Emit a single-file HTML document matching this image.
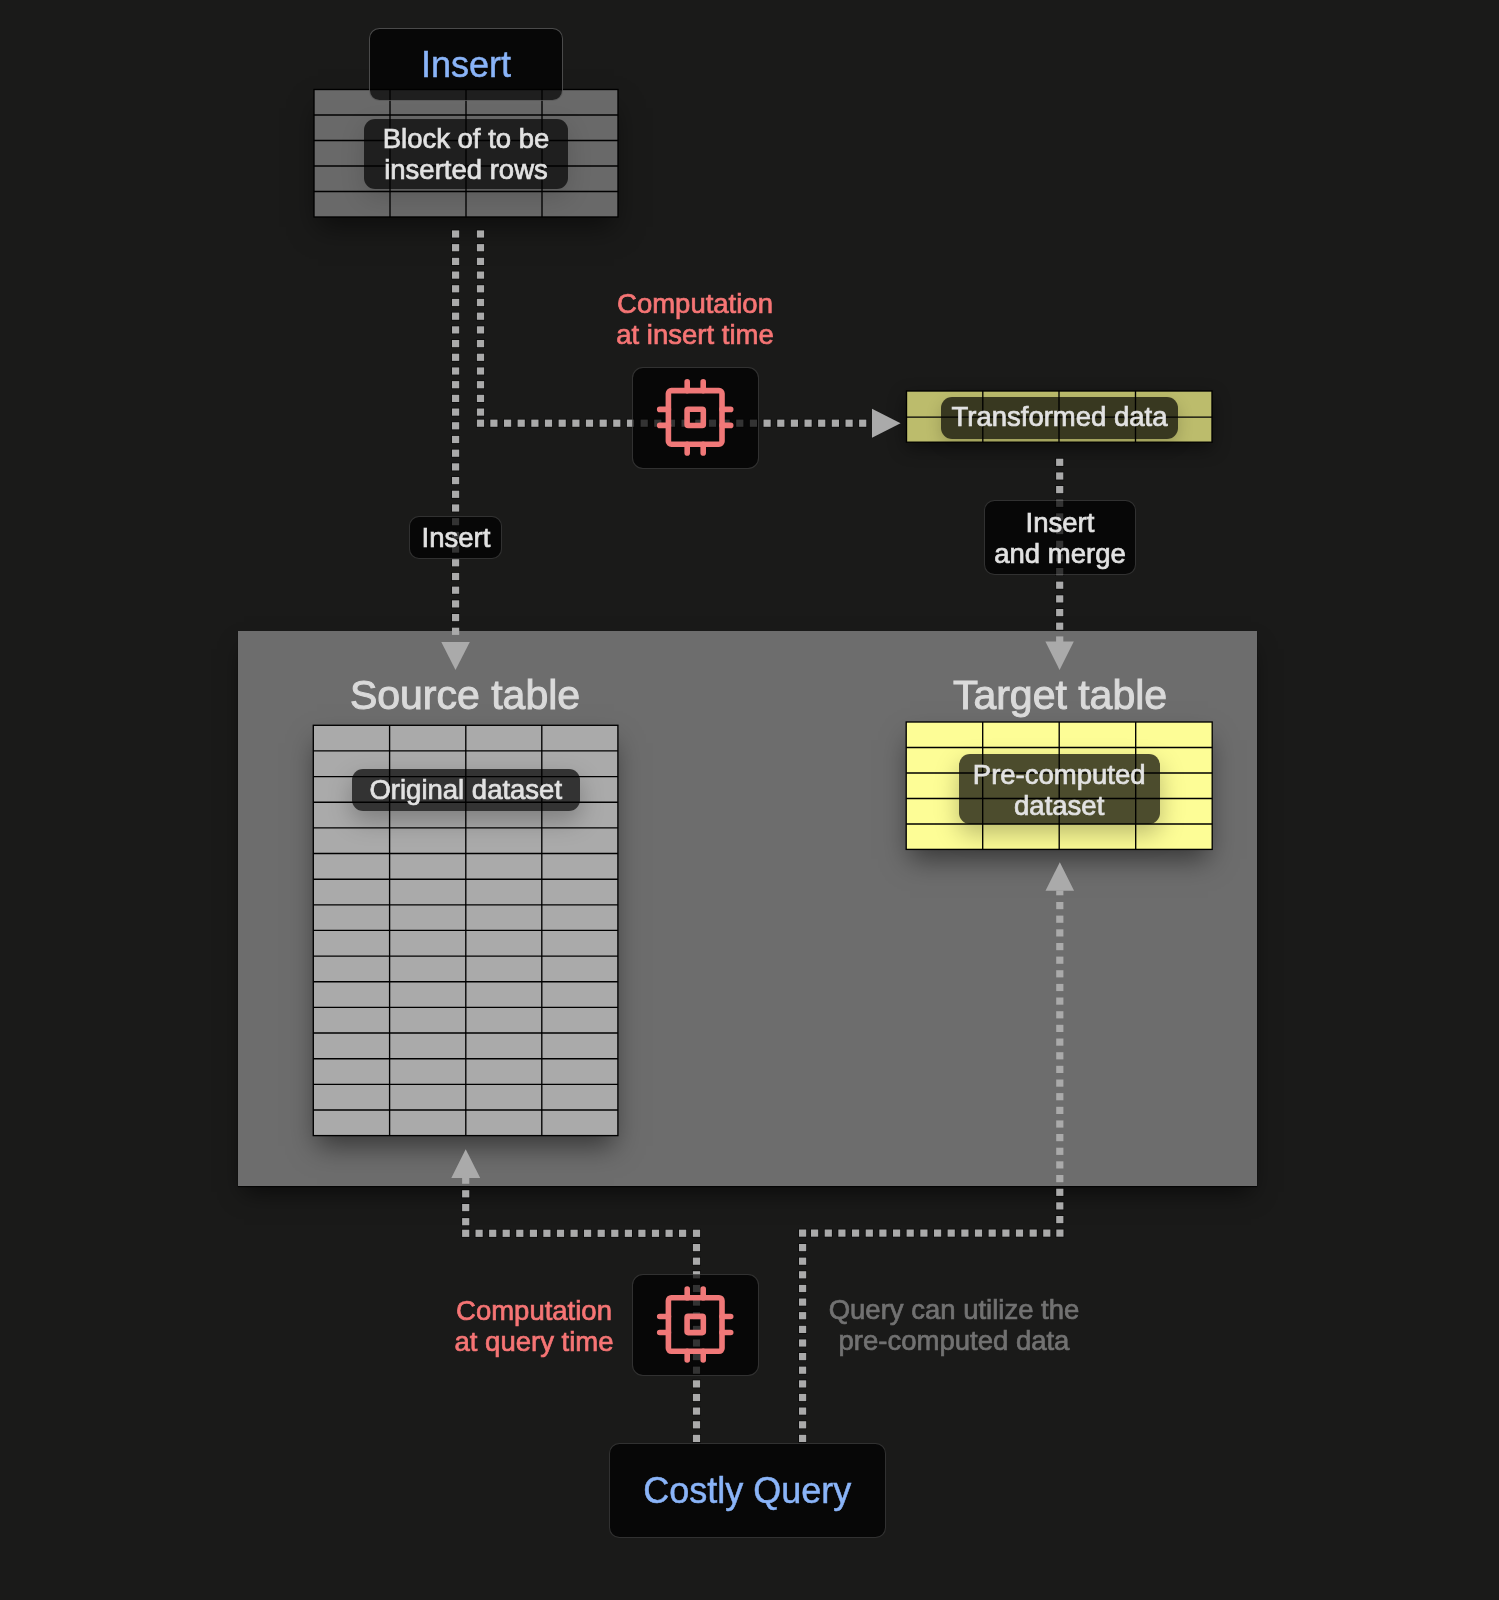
<!DOCTYPE html>
<html><head><meta charset="utf-8">
<style>
html,body{margin:0;padding:0;}
body{width:1499px;height:1600px;background:#1a1a19;position:relative;overflow:hidden;font-family:"Liberation Sans",sans-serif;}
.abs{position:absolute;}
#panel{left:238px;top:631px;width:1019px;height:555px;background:#6d6d6d;box-shadow:0 1px 1px rgba(0,0,0,0.7),0 12px 22px -6px rgba(0,0,0,0.6);}
.tshadow{position:absolute;box-shadow:0 14px 26px -4px rgba(0,0,0,0.5);}
svg{position:absolute;left:0;top:0;}
.box{position:absolute;box-sizing:border-box;background:rgba(0,0,0,0.7);border:1.2px solid rgba(255,255,255,0.17);border-radius:10.5px;}
.lbl{position:absolute;box-sizing:border-box;background:rgba(0,0,0,0.7);border-radius:11px;box-shadow:0 10px 24px rgba(0,0,0,0.26);}
.t{position:absolute;white-space:nowrap;text-align:center;line-height:31px;font-size:27.5px;color:#e2e2e2;-webkit-text-stroke:0.7px currentColor;will-change:transform;}
.blue{color:#8ab4f8;font-size:36px;-webkit-text-stroke:0.5px currentColor;}
.red{color:#f67575;}
.title{color:#dadada;font-size:41px;-webkit-text-stroke:1px currentColor;}
.gray{color:#727272;}
</style></head><body>
<div id="panel" class="abs"></div>
<!-- table shadows -->
<div class="tshadow" style="left:314px;top:90px;width:304px;height:127px;"></div>
<div class="tshadow" style="left:313px;top:725px;width:305px;height:411px;"></div>
<div class="tshadow" style="left:906px;top:722px;width:306px;height:127px;"></div>
<div class="tshadow" style="left:906px;top:391px;width:306px;height:51px;box-shadow:0 6px 18px rgba(0,0,0,0.45);"></div>
<svg width="1499" height="1600" viewBox="0 0 1499 1600" id="tables">
  <g stroke="#000" stroke-width="1.35" shape-rendering="geometricPrecision">
    <!-- top table -->
    <rect x="314" y="89.5" width="304" height="127.5" fill="#696969"/>
    <path d="M390 89.5V217M466 89.5V217M542 89.5V217M314 115H618M314 140.5H618M314 166H618M314 191.5H618"/>
    <!-- transformed -->
    <rect x="906.5" y="391" width="305.5" height="51.2" fill="#bcbc6c"/>
    <path d="M982.8 391V442.2M1059 391V442.2M1135.5 391V442.2M906.5 417.1H1212"/>
    <!-- source -->
    <rect x="313.3" y="725.3" width="304.6" height="410.3" fill="#aaaaaa"/>
    <path d="M389.6 725.3V1135.6M465.8 725.3V1135.6M541.8 725.3V1135.6M313.3 750.9H617.9M313.3 776.6H617.9M313.3 802.2H617.9M313.3 827.9H617.9M313.3 853.5H617.9M313.3 879.2H617.9M313.3 904.8H617.9M313.3 930.4H617.9M313.3 956.1H617.9M313.3 981.7H617.9M313.3 1007.4H617.9M313.3 1033.0H617.9M313.3 1058.7H617.9M313.3 1084.3H617.9M313.3 1110.0H617.9"/>
    <!-- target -->
    <rect x="906.2" y="722" width="306" height="127.4" fill="#fdfd96"/>
    <path d="M982.7 722V849.4M1059.2 722V849.4M1135.7 722V849.4M906.2 747.5H1212.2M906.2 773H1212.2M906.2 798.5H1212.2M906.2 824H1212.2"/>
  </g>
</svg>
<svg width="1499" height="1600" viewBox="0 0 1499 1600" id="lines">
  <g fill="#aaaaaa" stroke="#000" stroke-opacity="0.55" stroke-width="1.6" paint-order="stroke">
    <rect x="452.0" y="230.4" width="7.2" height="7.2"/>
    <rect x="452.0" y="244.1" width="7.2" height="7.2"/>
    <rect x="452.0" y="257.8" width="7.2" height="7.2"/>
    <rect x="452.0" y="271.5" width="7.2" height="7.2"/>
    <rect x="452.0" y="285.2" width="7.2" height="7.2"/>
    <rect x="452.0" y="298.9" width="7.2" height="7.2"/>
    <rect x="452.0" y="312.6" width="7.2" height="7.2"/>
    <rect x="452.0" y="326.3" width="7.2" height="7.2"/>
    <rect x="452.0" y="340.0" width="7.2" height="7.2"/>
    <rect x="452.0" y="353.7" width="7.2" height="7.2"/>
    <rect x="452.0" y="367.4" width="7.2" height="7.2"/>
    <rect x="452.0" y="381.1" width="7.2" height="7.2"/>
    <rect x="452.0" y="394.8" width="7.2" height="7.2"/>
    <rect x="452.0" y="408.5" width="7.2" height="7.2"/>
    <rect x="452.0" y="422.2" width="7.2" height="7.2"/>
    <rect x="452.0" y="435.9" width="7.2" height="7.2"/>
    <rect x="452.0" y="449.6" width="7.2" height="7.2"/>
    <rect x="452.0" y="463.3" width="7.2" height="7.2"/>
    <rect x="452.0" y="477.0" width="7.2" height="7.2"/>
    <rect x="452.0" y="490.7" width="7.2" height="7.2"/>
    <rect x="452.0" y="504.4" width="7.2" height="7.2"/>
    <rect x="452.0" y="518.1" width="7.2" height="7.2"/>
    <rect x="452.0" y="531.8" width="7.2" height="7.2"/>
    <rect x="452.0" y="545.5" width="7.2" height="7.2"/>
    <rect x="452.0" y="559.2" width="7.2" height="7.2"/>
    <rect x="452.0" y="572.9" width="7.2" height="7.2"/>
    <rect x="452.0" y="586.6" width="7.2" height="7.2"/>
    <rect x="452.0" y="600.3" width="7.2" height="7.2"/>
    <rect x="452.0" y="614.0" width="7.2" height="7.2"/>
    <rect x="476.9" y="230.4" width="7.2" height="7.2"/>
    <rect x="476.9" y="244.1" width="7.2" height="7.2"/>
    <rect x="476.9" y="257.8" width="7.2" height="7.2"/>
    <rect x="476.9" y="271.5" width="7.2" height="7.2"/>
    <rect x="476.9" y="285.2" width="7.2" height="7.2"/>
    <rect x="476.9" y="298.9" width="7.2" height="7.2"/>
    <rect x="476.9" y="312.6" width="7.2" height="7.2"/>
    <rect x="476.9" y="326.3" width="7.2" height="7.2"/>
    <rect x="476.9" y="340.0" width="7.2" height="7.2"/>
    <rect x="476.9" y="353.7" width="7.2" height="7.2"/>
    <rect x="476.9" y="367.4" width="7.2" height="7.2"/>
    <rect x="476.9" y="381.1" width="7.2" height="7.2"/>
    <rect x="476.9" y="394.8" width="7.2" height="7.2"/>
    <rect x="476.9" y="408.5" width="7.2" height="7.2"/>
    <rect x="476.9" y="419.6" width="7.2" height="7.2"/>
    <rect x="490.3" y="419.6" width="7.2" height="7.2"/>
    <rect x="504.0" y="419.6" width="7.2" height="7.2"/>
    <rect x="517.6" y="419.6" width="7.2" height="7.2"/>
    <rect x="531.3" y="419.6" width="7.2" height="7.2"/>
    <rect x="544.9" y="419.6" width="7.2" height="7.2"/>
    <rect x="558.6" y="419.6" width="7.2" height="7.2"/>
    <rect x="572.3" y="419.6" width="7.2" height="7.2"/>
    <rect x="585.9" y="419.6" width="7.2" height="7.2"/>
    <rect x="599.6" y="419.6" width="7.2" height="7.2"/>
    <rect x="613.2" y="419.6" width="7.2" height="7.2"/>
    <rect x="626.9" y="419.6" width="7.2" height="7.2"/>
    <rect x="640.6" y="419.6" width="7.2" height="7.2"/>
    <rect x="654.2" y="419.6" width="7.2" height="7.2"/>
    <rect x="667.9" y="419.6" width="7.2" height="7.2"/>
    <rect x="681.5" y="419.6" width="7.2" height="7.2"/>
    <rect x="695.2" y="419.6" width="7.2" height="7.2"/>
    <rect x="708.9" y="419.6" width="7.2" height="7.2"/>
    <rect x="722.5" y="419.6" width="7.2" height="7.2"/>
    <rect x="736.2" y="419.6" width="7.2" height="7.2"/>
    <rect x="749.8" y="419.6" width="7.2" height="7.2"/>
    <rect x="763.5" y="419.6" width="7.2" height="7.2"/>
    <rect x="777.2" y="419.6" width="7.2" height="7.2"/>
    <rect x="790.8" y="419.6" width="7.2" height="7.2"/>
    <rect x="804.5" y="419.6" width="7.2" height="7.2"/>
    <rect x="818.1" y="419.6" width="7.2" height="7.2"/>
    <rect x="831.8" y="419.6" width="7.2" height="7.2"/>
    <rect x="845.5" y="419.6" width="7.2" height="7.2"/>
    <rect x="859.1" y="419.6" width="7.2" height="7.2"/>
    <rect x="1056.1" y="458.7" width="7.2" height="7.2"/>
    <rect x="1056.1" y="472.4" width="7.2" height="7.2"/>
    <rect x="1056.1" y="486.0" width="7.2" height="7.2"/>
    <rect x="1056.1" y="499.7" width="7.2" height="7.2"/>
    <rect x="1056.1" y="513.3" width="7.2" height="7.2"/>
    <rect x="1056.1" y="527.0" width="7.2" height="7.2"/>
    <rect x="1056.1" y="540.7" width="7.2" height="7.2"/>
    <rect x="1056.1" y="554.3" width="7.2" height="7.2"/>
    <rect x="1056.1" y="568.0" width="7.2" height="7.2"/>
    <rect x="1056.1" y="581.6" width="7.2" height="7.2"/>
    <rect x="1056.1" y="595.3" width="7.2" height="7.2"/>
    <rect x="1056.1" y="609.0" width="7.2" height="7.2"/>
    <rect x="1056.1" y="622.6" width="7.2" height="7.2"/>
    <rect x="692.9" y="1434.8" width="7.2" height="7.2"/>
    <rect x="692.9" y="1421.2" width="7.2" height="7.2"/>
    <rect x="692.9" y="1407.5" width="7.2" height="7.2"/>
    <rect x="692.9" y="1393.9" width="7.2" height="7.2"/>
    <rect x="692.9" y="1380.3" width="7.2" height="7.2"/>
    <rect x="692.9" y="1366.6" width="7.2" height="7.2"/>
    <rect x="692.9" y="1353.0" width="7.2" height="7.2"/>
    <rect x="692.9" y="1339.4" width="7.2" height="7.2"/>
    <rect x="692.9" y="1325.8" width="7.2" height="7.2"/>
    <rect x="692.9" y="1312.1" width="7.2" height="7.2"/>
    <rect x="692.9" y="1298.5" width="7.2" height="7.2"/>
    <rect x="692.9" y="1284.9" width="7.2" height="7.2"/>
    <rect x="692.9" y="1271.2" width="7.2" height="7.2"/>
    <rect x="692.9" y="1257.6" width="7.2" height="7.2"/>
    <rect x="692.9" y="1244.0" width="7.2" height="7.2"/>
    <rect x="692.9" y="1229.7" width="7.2" height="7.2"/>
    <rect x="679.0" y="1229.7" width="7.2" height="7.2"/>
    <rect x="665.5" y="1229.7" width="7.2" height="7.2"/>
    <rect x="651.9" y="1229.7" width="7.2" height="7.2"/>
    <rect x="638.3" y="1229.7" width="7.2" height="7.2"/>
    <rect x="624.8" y="1229.7" width="7.2" height="7.2"/>
    <rect x="611.2" y="1229.7" width="7.2" height="7.2"/>
    <rect x="597.6" y="1229.7" width="7.2" height="7.2"/>
    <rect x="584.0" y="1229.7" width="7.2" height="7.2"/>
    <rect x="570.5" y="1229.7" width="7.2" height="7.2"/>
    <rect x="556.9" y="1229.7" width="7.2" height="7.2"/>
    <rect x="543.3" y="1229.7" width="7.2" height="7.2"/>
    <rect x="529.8" y="1229.7" width="7.2" height="7.2"/>
    <rect x="516.2" y="1229.7" width="7.2" height="7.2"/>
    <rect x="502.6" y="1229.7" width="7.2" height="7.2"/>
    <rect x="489.1" y="1229.7" width="7.2" height="7.2"/>
    <rect x="475.5" y="1229.7" width="7.2" height="7.2"/>
    <rect x="462.1" y="1229.7" width="7.2" height="7.2"/>
    <rect x="462.1" y="1218.1" width="7.2" height="7.2"/>
    <rect x="462.1" y="1204.0" width="7.2" height="7.2"/>
    <rect x="462.1" y="1190.2" width="7.2" height="7.2"/>
    <rect x="799.0" y="1434.8" width="7.2" height="7.2"/>
    <rect x="799.0" y="1421.2" width="7.2" height="7.2"/>
    <rect x="799.0" y="1407.5" width="7.2" height="7.2"/>
    <rect x="799.0" y="1393.9" width="7.2" height="7.2"/>
    <rect x="799.0" y="1380.3" width="7.2" height="7.2"/>
    <rect x="799.0" y="1366.6" width="7.2" height="7.2"/>
    <rect x="799.0" y="1353.0" width="7.2" height="7.2"/>
    <rect x="799.0" y="1339.4" width="7.2" height="7.2"/>
    <rect x="799.0" y="1325.8" width="7.2" height="7.2"/>
    <rect x="799.0" y="1312.1" width="7.2" height="7.2"/>
    <rect x="799.0" y="1298.5" width="7.2" height="7.2"/>
    <rect x="799.0" y="1284.9" width="7.2" height="7.2"/>
    <rect x="799.0" y="1271.2" width="7.2" height="7.2"/>
    <rect x="799.0" y="1257.6" width="7.2" height="7.2"/>
    <rect x="799.0" y="1244.0" width="7.2" height="7.2"/>
    <rect x="799.0" y="1229.5" width="7.2" height="7.2"/>
    <rect x="1043.2" y="1229.5" width="7.2" height="7.2"/>
    <rect x="1029.6" y="1229.5" width="7.2" height="7.2"/>
    <rect x="1015.9" y="1229.5" width="7.2" height="7.2"/>
    <rect x="1002.3" y="1229.5" width="7.2" height="7.2"/>
    <rect x="988.6" y="1229.5" width="7.2" height="7.2"/>
    <rect x="974.9" y="1229.5" width="7.2" height="7.2"/>
    <rect x="961.3" y="1229.5" width="7.2" height="7.2"/>
    <rect x="947.6" y="1229.5" width="7.2" height="7.2"/>
    <rect x="934.0" y="1229.5" width="7.2" height="7.2"/>
    <rect x="920.3" y="1229.5" width="7.2" height="7.2"/>
    <rect x="906.6" y="1229.5" width="7.2" height="7.2"/>
    <rect x="893.0" y="1229.5" width="7.2" height="7.2"/>
    <rect x="879.3" y="1229.5" width="7.2" height="7.2"/>
    <rect x="865.7" y="1229.5" width="7.2" height="7.2"/>
    <rect x="852.0" y="1229.5" width="7.2" height="7.2"/>
    <rect x="838.3" y="1229.5" width="7.2" height="7.2"/>
    <rect x="824.7" y="1229.5" width="7.2" height="7.2"/>
    <rect x="811.0" y="1229.5" width="7.2" height="7.2"/>
    <rect x="1056.3" y="1229.5" width="7.2" height="7.2"/>
    <rect x="1056.2" y="1188.7" width="7.2" height="7.2"/>
    <rect x="1056.2" y="1202.3" width="7.2" height="7.2"/>
    <rect x="1056.2" y="1216.0" width="7.2" height="7.2"/>
  </g>
  <g fill="#aaaaaa">
    <rect x="452.0" y="627.7" width="7.2" height="7.2"/>
    <rect x="1056.1" y="636.4" width="7.2" height="6.0"/>
    <rect x="462.1" y="1177.5" width="7.2" height="6.3"/>
    <rect x="1056.2" y="902.0" width="7.2" height="7.2"/>
    <rect x="1056.2" y="915.6" width="7.2" height="7.2"/>
    <rect x="1056.2" y="929.3" width="7.2" height="7.2"/>
    <rect x="1056.2" y="943.0" width="7.2" height="7.2"/>
    <rect x="1056.2" y="956.6" width="7.2" height="7.2"/>
    <rect x="1056.2" y="970.2" width="7.2" height="7.2"/>
    <rect x="1056.2" y="983.9" width="7.2" height="7.2"/>
    <rect x="1056.2" y="997.5" width="7.2" height="7.2"/>
    <rect x="1056.2" y="1011.2" width="7.2" height="7.2"/>
    <rect x="1056.2" y="1024.8" width="7.2" height="7.2"/>
    <rect x="1056.2" y="1038.5" width="7.2" height="7.2"/>
    <rect x="1056.2" y="1052.2" width="7.2" height="7.2"/>
    <rect x="1056.2" y="1065.8" width="7.2" height="7.2"/>
    <rect x="1056.2" y="1079.5" width="7.2" height="7.2"/>
    <rect x="1056.2" y="1093.1" width="7.2" height="7.2"/>
    <rect x="1056.2" y="1106.8" width="7.2" height="7.2"/>
    <rect x="1056.2" y="1120.4" width="7.2" height="7.2"/>
    <rect x="1056.2" y="1134.0" width="7.2" height="7.2"/>
    <rect x="1056.2" y="1147.7" width="7.2" height="7.2"/>
    <rect x="1056.2" y="1161.3" width="7.2" height="7.2"/>
    <rect x="1056.2" y="1175.0" width="7.2" height="7.2"/>
    <rect x="1056.2" y="890.5" width="7.2" height="4.8"/>
    <path d="M441.3 642H469.8L455.5 670Z"/>
    <path d="M1045.4 641.6H1073.8L1059.6 670Z"/>
    <path d="M872 408.7L900.6 423.2L872 437.8Z"/>
    <path d="M451.3 1177.9H480.2L465.7 1149.2Z"/>
    <path d="M1045.5 890.8H1074.1L1059.8 862.2Z"/>
  </g>
</svg>

<!-- top insert box -->
<div class="box" style="left:368.5px;top:27.6px;width:194.5px;height:73px;border-color:rgba(255,255,255,0.27);"></div>
<div class="t blue" style="left:369px;width:194px;top:44.5px;line-height:40px;">Insert</div>
<div class="lbl" style="left:363.5px;top:119px;width:204px;height:70px;box-shadow:0 8px 24px rgba(0,0,0,0.15);"></div>
<div class="t" style="left:363.5px;width:204px;top:123px;">Block of to be<br>inserted rows</div>

<div class="t red" style="left:595px;width:200px;top:288px;">Computation<br>at insert time</div>

<div class="box" style="left:632px;top:367px;width:126.5px;height:101.5px;border-radius:11px;"></div>

<div class="lbl" style="left:941px;top:397.3px;width:237px;height:41.5px;box-shadow:0 6px 16px rgba(0,0,0,0.18);"></div>
<div class="t" style="left:941px;width:237px;top:401px;">Transformed data</div>

<div class="box" style="left:408.7px;top:515.6px;width:93.8px;height:43.8px;border-radius:10px;"></div>
<div class="t" style="left:408.7px;width:93.8px;top:522px;">Insert</div>

<div class="box" style="left:983.8px;top:500.3px;width:152px;height:74.3px;border-radius:10.5px;"></div>
<div class="t" style="left:983.8px;width:152px;top:507px;">Insert<br>and merge</div>

<div class="t title" style="left:300px;width:330px;top:672px;line-height:46px;">Source table</div>
<div class="t title" style="left:900px;width:320px;top:672px;line-height:46px;">Target table</div>

<div class="lbl" style="left:352px;top:769px;width:227.5px;height:42px;"></div>
<div class="t" style="left:352px;width:227.5px;top:774px;">Original dataset</div>

<div class="lbl" style="left:959.3px;top:754.2px;width:200.4px;height:70.2px;"></div>
<div class="t" style="left:959.3px;width:200.4px;top:759px;">Pre-computed<br>dataset</div>

<div class="t red" style="left:434.3px;width:200px;top:1294.5px;">Computation<br>at query time</div>
<div class="box" style="left:632px;top:1273.7px;width:126.7px;height:102.8px;border-radius:11px;"></div>

<div class="t gray" style="left:804px;width:300px;top:1294px;">Query can utilize the<br>pre-computed data</div>

<div class="box" style="left:609.4px;top:1443px;width:276.4px;height:94.5px;border-radius:10.5px;"></div>
<div class="t blue" style="left:609.4px;width:276.4px;top:1471px;line-height:40px;">Costly Query</div>

<!-- chip icons -->
<svg width="1499" height="1600" viewBox="0 0 1499 1600" id="chips">
  
  <g transform="translate(695.2 417.4)" fill="none" stroke="#f07878" stroke-width="5.6" stroke-linecap="round" stroke-linejoin="round">
      <rect x="-26.8" y="-26.8" width="53.6" height="53.6" rx="3"/>
      <rect x="-8.1" y="-8.1" width="16.2" height="16.2" rx="1"/>
      <path d="M-8 -26.8V-35.5M8 -26.8V-35.5M-8 26.8V35.5M8 26.8V35.5M-26.8 -8H-35.5M-26.8 8H-35.5M26.8 -8H35.5M26.8 8H35.5"/>
    </g>
  <g transform="translate(695.2 1324.5)" fill="none" stroke="#f07878" stroke-width="5.6" stroke-linecap="round" stroke-linejoin="round">
      <rect x="-26.8" y="-26.8" width="53.6" height="53.6" rx="3"/>
      <rect x="-8.1" y="-8.1" width="16.2" height="16.2" rx="1"/>
      <path d="M-8 -26.8V-35.5M8 -26.8V-35.5M-8 26.8V35.5M8 26.8V35.5M-26.8 -8H-35.5M-26.8 8H-35.5M26.8 -8H35.5M26.8 8H35.5"/>
    </g>
</svg>
</body></html>
